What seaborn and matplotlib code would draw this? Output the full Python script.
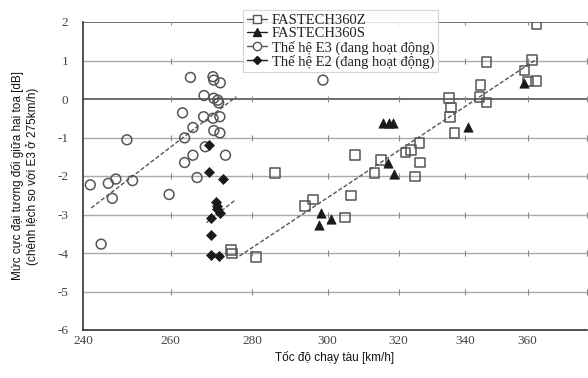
import numpy as np
import pandas as pd
import matplotlib
matplotlib.use("Agg")
import matplotlib.pyplot as plt
import seaborn as sns
from matplotlib.lines import Line2D

# ---- data ----
z360_speed = [285.9, 293.9, 274.6, 275.0, 281.0, 296.0, 304.7, 306.4, 307.5, 313.1,
              314.9, 322.0, 323.6, 326.2, 326.3, 324.8, 335.1, 335.7, 335.4, 336.7,
              344.8, 344.5, 346.7, 346.7, 359.0, 361.5, 362.7, 360.1, 362.9]
z360_level = [-1.93, -2.78, -3.92, -4.01, -4.11, -2.61, -3.08, -2.51, -1.46, -1.93,
              -1.59, -1.39, -1.32, -1.14, -1.65, -2.01, 0.02, -0.22, -0.46, -0.88,
              0.36, 0.06, -0.09, 0.96, 0.74, 1.01, 0.47, 0.45, 1.95]

s360_speed = [358.9, 315.4, 317.2, 318.3, 341.0, 317.0, 318.6, 298.1, 301.0, 297.6]
s360_level = [0.41, -0.63, -0.62, -0.63, -0.72, -1.67, -1.96, -2.95, -3.12, -3.27]

e3_speed = [264.7, 270.2, 270.4, 272.0, 268.0, 270.4, 271.4, 271.6, 262.8, 267.9,
            270.2, 271.9, 265.3, 270.4, 271.9, 249.8, 263.3, 268.3, 273.3, 265.3,
            263.3, 266.3, 247.3, 251.1, 241.6, 245.6, 246.5, 259.6, 244.0, 298.7]
e3_level = [0.56, 0.58, 0.49, 0.42, 0.09, 0.02, -0.03, -0.10, -0.36, -0.46,
            -0.50, -0.46, -0.74, -0.82, -0.88, -1.06, -1.01, -1.24, -1.46, -1.46,
            -1.65, -2.04, -2.08, -2.12, -2.23, -2.19, -2.58, -2.48, -3.77, 0.49]

e2_speed = [269.3, 269.2, 272.8, 271.0, 271.1, 271.1, 271.9, 269.7, 269.8, 269.7, 271.7]
e2_level = [-1.19, -1.90, -2.08, -2.67, -2.78, -2.86, -2.97, -3.08, -3.53, -4.05, -4.08]

# trend lines (end points)
trend_fastech_x = [276.8, 363.4]
trend_fastech_y = [-4.08, 1.06]
trend_e3_x = [241.8, 276.0]
trend_e3_y = [-2.83, 0.06]
trend_e2_x = [268.6, 275.8]
trend_e2_y = [-3.21, -2.62]

x_ticks = [240, 260, 280, 300, 320, 340, 360]
y_ticks = [-6, -5, -4, -3, -2, -1, 0, 1, 2]
series_names = ["FASTECH360Z", "FASTECH360S",
                "Thế hệ E3 (đang hoạt động)", "Thế hệ E2 (đang hoạt động)"]
x_label = "Tốc độ chạy tàu [km/h]"
y_label = "Mức cực đại tương đối giữa hai toa [dB]\n(chênh lệch so với E3 ở 275km/h)"

# ---- figure ----
sns.set_style("white")
plt.rcParams["font.family"] = ["Liberation Sans", "DejaVu Sans"]

fig = plt.figure(figsize=(5.88, 3.78), dpi=100)
ax = fig.add_axes([83 / 588, 1 - 330 / 378, 504 / 588, 308 / 378])
ax.set_xscale("log")
ax.set_xlim(240, 380)
ax.set_ylim(-6, 2)

# horizontal grid lines
for yv in y_ticks:
    col = "#555555" if yv in (0, 2) else "#aaaaaa"
    lw = 1.2 if yv in (0, 2) else 1.0
    ax.axhline(yv, color=col, lw=lw, zorder=0)
# small crosses on the grid lines at x tick positions
gx, gy = np.meshgrid(x_ticks[1:] + [380], y_ticks[1:])
ax.plot(gx.ravel(), gy.ravel(), ls="none", marker="|", ms=5, mew=0.8,
        color="#888888", zorder=0)

dash = (0, (3, 1.5))
for tx, ty in [(trend_fastech_x, trend_fastech_y), (trend_e3_x, trend_e3_y),
               (trend_e2_x, trend_e2_y)]:
    sns.lineplot(x=tx, y=ty, ax=ax, color="#555555", lw=1.0, linestyle=dash,
                 zorder=2, legend=False)

sns.scatterplot(x=z360_speed, y=z360_level, ax=ax, marker="s", s=48,
                facecolor="none", edgecolor="#555555", linewidth=1.1, zorder=3)
sns.scatterplot(x=e3_speed, y=e3_level, ax=ax, marker="o", s=50,
                facecolor="none", edgecolor="#555555", linewidth=1.1, zorder=3)
sns.scatterplot(x=s360_speed, y=s360_level, ax=ax, marker="^", s=45,
                color="#1a1a1a", edgecolor="#1a1a1a", linewidth=0.5, zorder=4)
sns.scatterplot(x=e2_speed, y=e2_level, ax=ax, marker="D", s=26,
                color="#1a1a1a", edgecolor="#1a1a1a", linewidth=0.5, zorder=4)

# axes styling
for side in ("top", "right"):
    ax.spines[side].set_visible(False)
for side in ("left", "bottom"):
    ax.spines[side].set_color("#333333")
    ax.spines[side].set_linewidth(1.2)

ax.xaxis.set_minor_locator(matplotlib.ticker.NullLocator())
ax.set_xticks(x_ticks)
ax.set_xticklabels([str(v) for v in x_ticks])
ax.set_yticks(y_ticks)
ax.set_yticklabels([str(v) for v in y_ticks])
ax.tick_params(axis="both", which="major", direction="inout", length=5, width=0.8,
               color="#555555", labelsize=9.5, labelcolor="#444444")
ax.tick_params(axis="x", pad=1)
ax.tick_params(axis="y", pad=8)
for lab in ax.get_xticklabels() + ax.get_yticklabels():
    lab.set_family(["Liberation Serif", "DejaVu Serif"])

ax.set_xlabel(x_label, fontsize=8.5, color="#111111", labelpad=3)
ax.set_ylabel(y_label, fontsize=8.5, color="#111111", labelpad=13)

# legend
handles = [
    Line2D([], [], color="#555555", lw=1, marker="s", mfc="white", mec="#555555", ms=6),
    Line2D([], [], color="#222222", lw=1, marker="^", mfc="#1a1a1a", mec="#1a1a1a", ms=6),
    Line2D([], [], color="#555555", lw=1, marker="o", mfc="white", mec="#555555", ms=6),
    Line2D([], [], color="#222222", lw=1, marker="D", mfc="#1a1a1a", mec="#1a1a1a", ms=4),
]
leg = fig.legend(handles, series_names, loc="upper left",
                 bbox_to_anchor=(236 / 588, 1 - 3 / 378), frameon=True, fancybox=False,
                 handlelength=1.4, handletextpad=0.3, borderpad=0.25,
                 labelspacing=0.0, prop={"family": ["Liberation Serif", "DejaVu Serif"],
                                         "size": 10.5})
leg.get_frame().set_edgecolor("#cccccc")
leg.get_frame().set_linewidth(0.8)
for t in leg.get_texts():
    t.set_color("#222222")

fig.savefig("out.png", dpi=100)
